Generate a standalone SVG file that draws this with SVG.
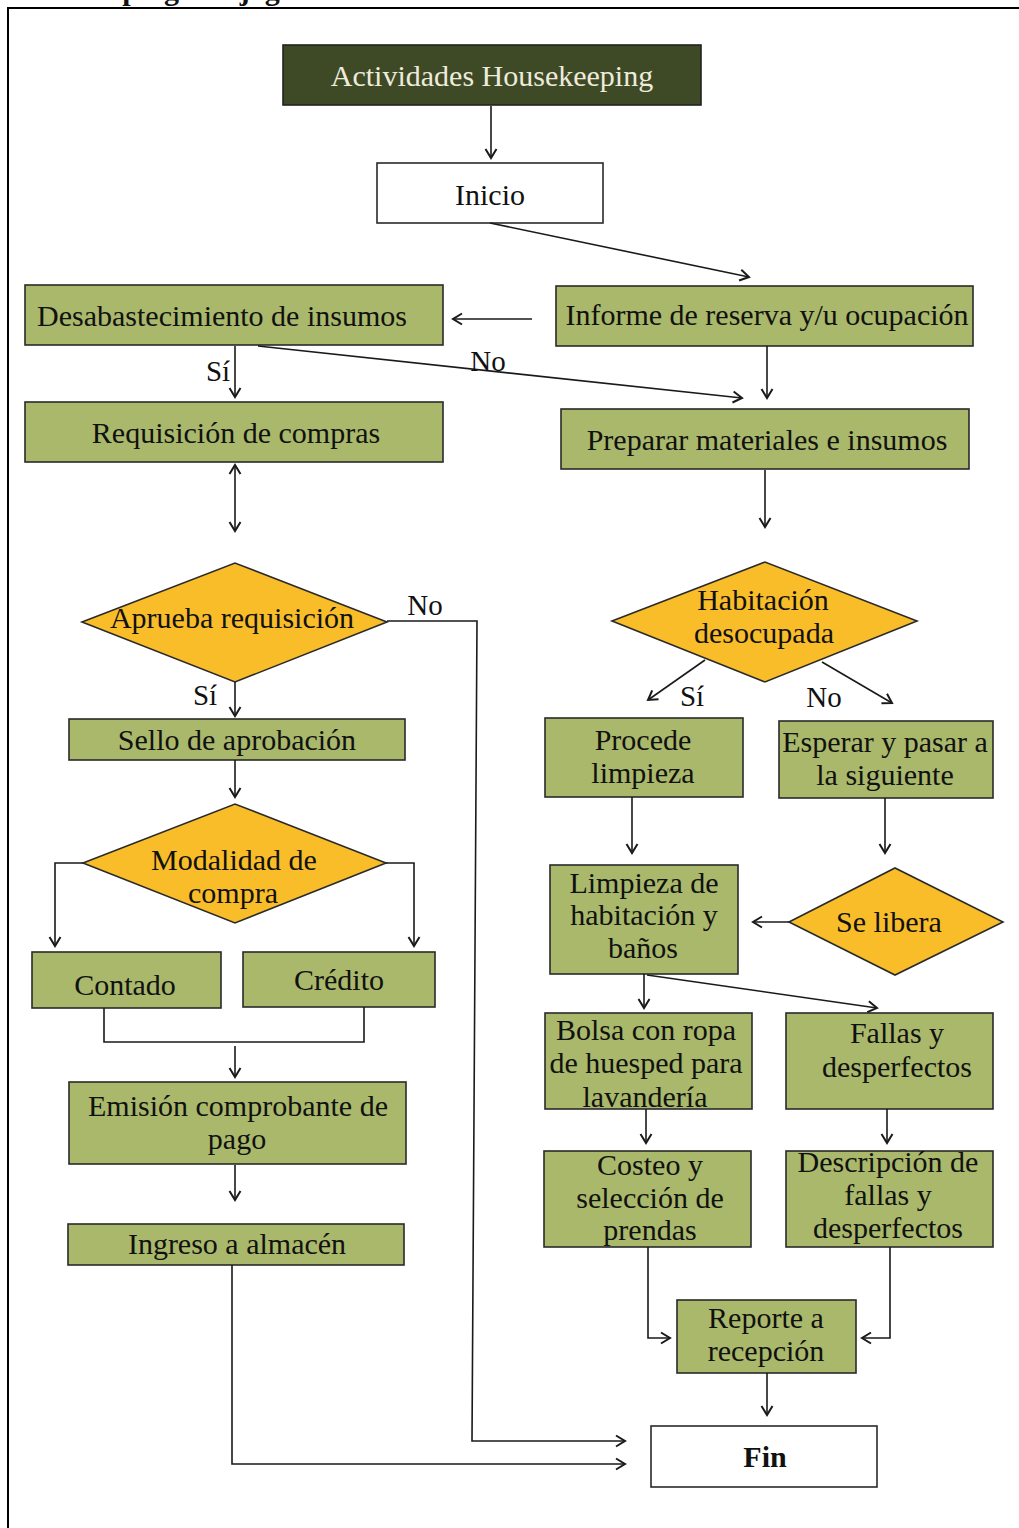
<svg xmlns="http://www.w3.org/2000/svg" width="1019" height="1528" viewBox="0 0 1019 1528">
<style>
  text { font-family: "Liberation Serif", "Times New Roman", serif; font-size: 30px; fill: #111; text-anchor: middle; }
  .box { fill: #a9b86a; stroke: #2a2a2a; stroke-width: 1.6; }
  .dia { fill: #f9bd2a; stroke: #2a2a2a; stroke-width: 1.6; }
  .wbox { fill: #ffffff; stroke: #2a2a2a; stroke-width: 1.6; }
  .dark { fill: #3e4a26; stroke: #222; stroke-width: 1.6; }
  .conn path { fill: none; stroke: #1a1a1a; stroke-width: 1.6; }
  .arr { marker-end: url(#ah); }
  .lbl { font-size: 29px; }
</style>
<defs>
  <marker id="ah" markerUnits="userSpaceOnUse" markerWidth="14" markerHeight="14" refX="11" refY="7" orient="auto-start-reverse">
    <path d="M2,1.5 L11,7 L2,12.5" fill="none" stroke="#1a1a1a" stroke-width="2"/>
  </marker>
</defs>
<rect x="0" y="0" width="1019" height="1528" fill="#ffffff"/>
<text x="-1" y="-0.5" style="font-weight:bold;text-anchor:start">Housekeeping: Flujograma de actividades</text>
<rect x="8" y="8" width="1100" height="1600" fill="none" stroke="#000" stroke-width="2"/>

<g id="n-actividades"><rect class="dark" x="283" y="45" width="418" height="60"/><text x="492" y="86" style="fill:#efebdc">Actividades Housekeeping</text></g>
<g id="n-inicio"><rect class="wbox" x="377" y="163" width="226" height="60"/><text x="490" y="205">Inicio</text></g>
<g id="n-desab"><rect class="box" x="25" y="285" width="418" height="60"/><text x="222" y="326">Desabastecimiento de insumos</text></g>
<g id="n-informe"><rect class="box" x="556" y="286" width="417" height="60"/><text x="767" y="325">Informe de reserva y/u ocupación</text></g>
<g id="n-requisicion"><rect class="box" x="25" y="402" width="418" height="60"/><text x="236" y="443">Requisición de compras</text></g>
<g id="n-preparar"><rect class="box" x="561" y="409" width="408" height="60"/><text x="767" y="450">Preparar materiales e insumos</text></g>
<g id="n-aprueba"><polygon class="dia" points="82,622 235,563 387,622 235,682"/><text x="232" y="628">Aprueba requisición</text></g>
<g id="n-habitacion"><polygon class="dia" points="612,621 765,562 917,621 765,682"/><text x="763" y="610">Habitación</text><text x="764" y="643">desocupada</text></g>
<g id="n-sello"><rect class="box" x="69" y="719" width="336" height="41"/><text x="237" y="750">Sello de aprobación</text></g>
<g id="n-procede"><rect class="box" x="545" y="718" width="198" height="79"/><text x="643" y="750">Procede</text><text x="643" y="783">limpieza</text></g>
<g id="n-esperar"><rect class="box" x="779" y="721" width="214" height="77"/><text x="885" y="752">Esperar y pasar a</text><text x="885" y="785">la siguiente</text></g>
<g id="n-modalidad"><polygon class="dia" points="83,863 235,804 386,863 235,923"/><text x="234" y="870">Modalidad de</text><text x="233" y="903">compra</text></g>
<g id="n-limpieza"><rect class="box" x="550" y="865" width="188" height="109"/><text x="644" y="893">Limpieza de</text><text x="644" y="925">habitación y</text><text x="643" y="958">baños</text></g>
<g id="n-selibera"><polygon class="dia" points="789,922 895,868 1003,922 895,975"/><text x="889" y="932">Se libera</text></g>
<g id="n-contado"><rect class="box" x="32" y="952" width="189" height="56"/><text x="125" y="995">Contado</text></g>
<g id="n-credito"><rect class="box" x="243" y="952" width="192" height="55"/><text x="339" y="990">Crédito</text></g>
<g id="n-bolsa"><rect class="box" x="545" y="1013" width="207" height="96"/><text x="646" y="1040">Bolsa con ropa</text><text x="646" y="1073">de huesped para</text><text x="645" y="1107">lavandería</text></g>
<g id="n-fallas"><rect class="box" x="786" y="1013" width="207" height="96"/><text x="897" y="1043">Fallas y</text><text x="897" y="1077">desperfectos</text></g>
<g id="n-emision"><rect class="box" x="69" y="1082" width="337" height="82"/><text x="238" y="1116">Emisión comprobante de</text><text x="237" y="1149">pago</text></g>
<g id="n-costeo"><rect class="box" x="544" y="1151" width="207" height="96"/><text x="650" y="1175">Costeo y</text><text x="650" y="1208">selección de</text><text x="650" y="1240">prendas</text></g>
<g id="n-descripcion"><rect class="box" x="786" y="1151" width="207" height="96"/><text x="888" y="1172">Descripción de</text><text x="888" y="1205">fallas y</text><text x="888" y="1238">desperfectos</text></g>
<g id="n-ingreso"><rect class="box" x="68" y="1224" width="336" height="41"/><text x="237" y="1254">Ingreso a almacén</text></g>
<g id="n-reporte"><rect class="box" x="677" y="1300" width="179" height="73"/><text x="766" y="1328">Reporte a</text><text x="766" y="1361">recepción</text></g>
<g id="n-fin"><rect class="wbox" x="651" y="1426" width="226" height="61"/><text x="765" y="1467" style="font-weight:bold">Fin</text></g>

<g id="connectors" class="conn">
  <path class="arr" d="M491,106 V158"/>
  <path class="arr" d="M490,223 L749,277"/>
  <path class="arr" d="M532,319 H453"/>
  <path class="arr" d="M235,346 V397"/>
  <path class="arr" d="M258,346 L742,398"/>
  <path class="arr" d="M767,346 V398"/>
  <path d="M235,465 V531" style="marker-start:url(#ah);marker-end:url(#ah)"/>
  <path class="arr" d="M765,470 V527"/>
  <path class="arr" d="M387,621 H477 L472,1441 H625"/>
  <path class="arr" d="M235,682 V716"/>
  <path class="arr" d="M235,760 V797"/>
  <path class="arr" d="M83,863 H55 V946"/>
  <path class="arr" d="M386,863 H414 V946"/>
  <path d="M104,1008 V1042 H364 V1007"/>
  <path class="arr" d="M235,1046 V1077"/>
  <path class="arr" d="M235,1165 V1200"/>
  <path class="arr" d="M232,1265 V1464 H625"/>
  <path class="arr" d="M705,660 L648,700"/>
  <path class="arr" d="M822,662 L892,703"/>
  <path class="arr" d="M632,797 V853"/>
  <path class="arr" d="M885,798 V853"/>
  <path class="arr" d="M789,922 H753"/>
  <path class="arr" d="M644,974 V1008"/>
  <path class="arr" d="M647,975 L877,1008"/>
  <path class="arr" d="M646,1109 V1143"/>
  <path class="arr" d="M887,1109 V1143"/>
  <path class="arr" d="M648,1247 V1338 H670"/>
  <path class="arr" d="M890,1247 V1338 H862"/>
  <path class="arr" d="M767,1373 V1415"/>
  <text class="lbl" x="218" y="381">Sí</text>
  <text class="lbl" x="488" y="371">No</text>
  <text class="lbl" x="425" y="615">No</text>
  <text class="lbl" x="205" y="705">Sí</text>
  <text class="lbl" x="692" y="706">Sí</text>
  <text class="lbl" x="824" y="707">No</text>
</g>
</svg>
